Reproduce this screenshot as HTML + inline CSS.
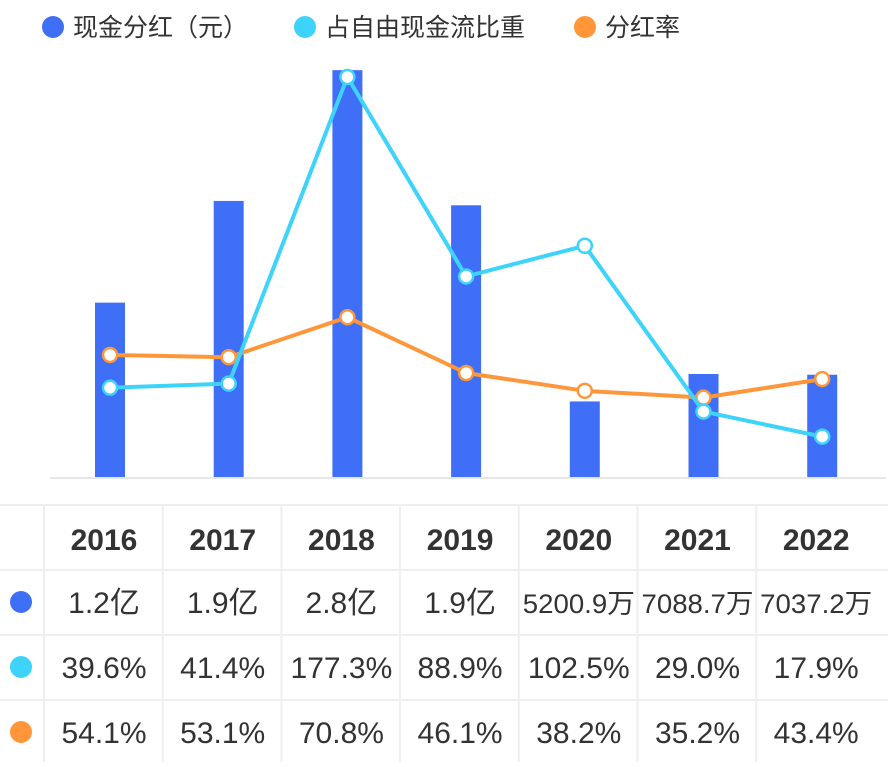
<!DOCTYPE html>
<html><head><meta charset="utf-8"><style>
body{margin:0;background:#fff;width:888px;height:762px;overflow:hidden;font-family:"Liberation Sans","Noto Sans CJK SC",sans-serif;}
svg text{font-family:"Liberation Sans","Noto Sans CJK SC",sans-serif;}
</style></head><body>
<svg id="c" width="888" height="762"></svg>
<script>
const years=["2016","2017","2018","2019","2020","2021","2022"];
const dividend=[1.2,1.9,2.8,1.87,0.52009,0.70887,0.70372];
const fcfRatio=[39.6,41.4,177.3,88.9,102.5,29.0,17.9];
const payoutRatio=[54.1,53.1,70.8,46.1,38.2,35.2,43.4];
const dividendLabels=["1.2亿","1.9亿","2.8亿","1.9亿","5200.9万","7088.7万","7037.2万"];
const fcfLabels=["39.6%","41.4%","177.3%","88.9%","102.5%","29.0%","17.9%"];
const payoutLabels=["54.1%","53.1%","70.8%","46.1%","38.2%","35.2%","43.4%"];
const seriesNames=["现金分红（元）","占自由现金流比重","分红率"];
const colors=["#3f6ff6","#3dd3fb","#ff963a"];
const NS="http://www.w3.org/2000/svg";
const svg=document.getElementById('c');
function el(t,a,p){const e=document.createElementNS(NS,t);for(const k in a)e.setAttribute(k,a[k]);(p||svg).appendChild(e);return e;}
const base=477;
const x=i=>110+i*118.7;
const yBar=v=>base-v*145.3;
const yPct=v=>base-v*2.256;
const legX=[50,302,582];
seriesNames.forEach((n,i)=>{
 const g=el('g',{});
 
 
 el('circle',{cx:legX[i]+3,cy:27,r:11,fill:colors[i]},g);
 const t=el('text',{x:legX[i]+23,y:36,'font-size':25,fill:'#333'},g);t.textContent=n;
});
const ax=el('line',{x1:50,x2:886,y1:base+1,y2:base+1,stroke:'#e6e6e6','stroke-width':2});


dividend.forEach((v,i)=>{
 const r=el('rect',{x:x(i)-15,y:yBar(v),width:30,height:base-yBar(v),fill:colors[0]});
 
 
});
function line(vals,c,name){
 const p=el('polyline',{points:vals.map((v,i)=>x(i)+','+yPct(v)).join(' '),fill:'none',stroke:c,'stroke-width':4,'stroke-linejoin':'round'});
 
 
 vals.forEach((v,i)=>{
  const d=el('circle',{cx:x(i),cy:yPct(v),r:7,fill:'#fff',stroke:c,'stroke-width':2.5});
  
  
 });
}
line(payoutRatio,colors[2],'payout-ratio');
line(fcfRatio,colors[1],'fcf-ratio');
const rows=[505,570,635,700,765];
const gl='#efefef';
rows.forEach(r=>{const l=el('line',{x1:0,x2:888,y1:r,y2:r,stroke:gl,'stroke-width':2});});
for(let i=0;i<7;i++){const l=el('line',{x1:x(i)-66,x2:x(i)-66,y1:505,y2:762,stroke:gl,'stroke-width':2});}
years.forEach((y,i)=>{const t=el('text',{x:x(i)-6,y:550,'font-size':30,'font-weight':'bold',fill:'#333','text-anchor':'middle'});t.textContent=y;});
const tbl=[dividendLabels,fcfLabels,payoutLabels];
tbl.forEach((arr,r)=>{
 const cy=602+r*65;
 const d=el('circle',{cx:21,cy:cy,r:11,fill:colors[r]});
 
 
 arr.forEach((s,i)=>{
  const small=s.length>6;
  const t=el('text',{x:x(i)-6,y:cy+11,'font-size':small?27:30,fill:'#333','text-anchor':'middle'});
  if(small){t.setAttribute('textLength','112');t.setAttribute('lengthAdjust','spacingAndGlyphs');}
  t.textContent=s;
  
  
 });
});
</script>
</body></html>
